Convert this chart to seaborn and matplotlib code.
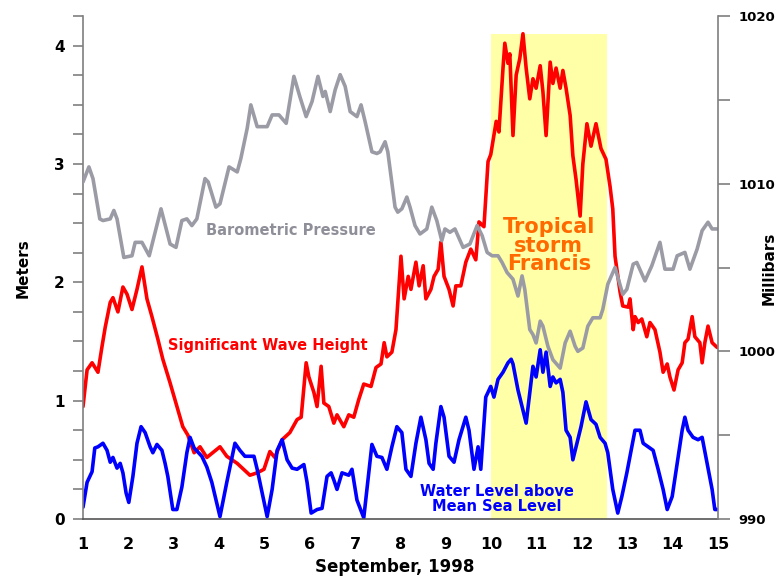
import matplotlib
matplotlib.use("Agg")
import matplotlib.pyplot as plt
import seaborn as sns
from matplotlib.ticker import MultipleLocator

# Barometric pressure, millibars (right axis)
pressure_day = [1.00, 1.13, 1.22, 1.37, 1.44, 1.60, 1.68, 1.75, 1.90, 2.08, 2.15, 2.30, 2.46, 2.59,
                2.72, 2.92, 3.05, 3.18, 3.29, 3.40, 3.51, 3.69, 3.76, 3.93, 4.02, 4.22, 4.40, 4.48,
                4.62, 4.70, 4.84, 5.06, 5.17, 5.32, 5.48, 5.65, 5.78, 5.92, 6.05, 6.18, 6.29, 6.34,
                6.45, 6.56, 6.67, 6.78, 6.89, 7.04, 7.13, 7.22, 7.37, 7.48, 7.55, 7.66, 7.72, 7.88,
                7.94, 8.03, 8.14, 8.21, 8.32, 8.43, 8.58, 8.69, 8.80, 8.91, 8.98, 9.09, 9.20, 9.38,
                9.53, 9.69, 9.80, 9.91, 10.02, 10.15, 10.24, 10.35, 10.48, 10.59, 10.68, 10.74,
                10.85, 10.92, 10.99, 11.08, 11.14, 11.25, 11.36, 11.52, 11.63, 11.74, 11.85, 11.91,
                12.02, 12.13, 12.24, 12.40, 12.46, 12.57, 12.73, 12.90, 12.99, 13.13, 13.21, 13.39,
                13.54, 13.72, 13.83, 14.01, 14.10, 14.27, 14.38, 14.54, 14.65, 14.78, 14.87, 14.98]
pressure_mb = [1010.1, 1011.0, 1010.3, 1007.9, 1007.8, 1007.9, 1008.4, 1007.9, 1005.6, 1005.7,
               1006.5, 1006.5, 1005.7, 1007.1, 1008.5, 1006.4, 1006.2, 1007.8, 1007.9, 1007.5,
               1007.9, 1010.3, 1010.1, 1008.6, 1008.8, 1011.0, 1010.7, 1011.5, 1013.3, 1014.7,
               1013.4, 1013.4, 1014.1, 1014.1, 1013.6, 1016.4, 1015.2, 1014.0, 1014.9, 1016.4,
               1015.2, 1015.5, 1014.3, 1015.6, 1016.5, 1015.8, 1014.3, 1014.0, 1014.7, 1013.7,
               1011.9, 1011.8, 1011.9, 1012.5, 1011.9, 1008.6, 1008.3, 1008.5, 1009.2, 1008.6,
               1007.5, 1007.0, 1007.3, 1008.6, 1007.8, 1006.6, 1007.3, 1007.1, 1007.3, 1006.2,
               1006.4, 1007.5, 1006.9, 1005.9, 1005.7, 1005.7, 1005.3, 1004.7, 1004.3, 1003.3,
               1004.5, 1003.7, 1001.3, 1001.0, 1000.5, 1001.8, 1001.5, 1000.3, 999.5, 999.0,
               1000.5, 1001.2, 1000.3, 1000.0, 1000.2, 1001.5, 1002.0, 1002.0, 1002.5, 1004.0,
               1005.0, 1003.4, 1003.7, 1005.2, 1005.3, 1004.2, 1005.1, 1006.5, 1004.9, 1004.9,
               1005.7, 1005.9, 1004.9, 1006.1, 1007.2, 1007.7, 1007.3, 1007.3]

# Significant wave height, meters
wave_day = [1.00, 1.09, 1.20, 1.33, 1.42, 1.49, 1.60, 1.66, 1.77, 1.88, 1.97, 2.08, 2.19, 2.30,
            2.41, 2.52, 2.65, 2.76, 2.92, 3.07, 3.20, 3.31, 3.45, 3.58, 3.73, 4.02, 4.17, 4.40,
            4.68, 4.84, 4.99, 5.12, 5.23, 5.39, 5.56, 5.72, 5.81, 5.92, 5.98, 6.09, 6.16, 6.25,
            6.31, 6.42, 6.53, 6.60, 6.75, 6.86, 6.97, 7.08, 7.19, 7.35, 7.46, 7.57, 7.64, 7.70,
            7.81, 7.90, 8.01, 8.08, 8.17, 8.23, 8.34, 8.41, 8.50, 8.56, 8.67, 8.74, 8.83, 8.89,
            8.96, 9.07, 9.16, 9.22, 9.33, 9.44, 9.55, 9.66, 9.73, 9.84, 9.93, 9.99, 10.11, 10.17,
            10.26, 10.30, 10.37, 10.41, 10.48, 10.55, 10.63, 10.70, 10.77, 10.85, 10.92, 10.99,
            11.08, 11.14, 11.21, 11.30, 11.36, 11.43, 11.52, 11.58, 11.65, 11.74, 11.80, 11.87,
            11.96, 12.02, 12.11, 12.20, 12.31, 12.42, 12.53, 12.62, 12.68, 12.73, 12.84, 12.90,
            13.02, 13.06, 13.13, 13.17, 13.24, 13.32, 13.43, 13.50, 13.61, 13.72, 13.79, 13.88,
            13.94, 14.03, 14.12, 14.21, 14.27, 14.34, 14.43, 14.49, 14.60, 14.65, 14.71, 14.78,
            14.87, 14.98]
wave_m = [0.95, 1.26, 1.32, 1.24, 1.46, 1.62, 1.83, 1.87, 1.75, 1.96, 1.90, 1.77, 1.94, 2.13,
          1.86, 1.71, 1.52, 1.35, 1.15, 0.95, 0.78, 0.71, 0.56, 0.61, 0.52, 0.61, 0.53, 0.47,
          0.37, 0.39, 0.42, 0.57, 0.52, 0.67, 0.73, 0.84, 0.86, 1.32, 1.20, 1.07, 0.95, 1.29,
          0.98, 0.95, 0.81, 0.88, 0.78, 0.88, 0.86, 1.01, 1.14, 1.12, 1.28, 1.31, 1.49, 1.37,
          1.41, 1.60, 2.22, 1.86, 2.05, 1.94, 2.17, 1.97, 2.14, 1.86, 1.94, 2.05, 2.11, 2.34,
          2.05, 1.94, 1.80, 1.97, 1.97, 2.17, 2.28, 2.19, 2.51, 2.47, 3.02, 3.08, 3.36, 3.27,
          3.81, 4.02, 3.85, 3.93, 3.24, 3.75, 3.89, 4.10, 3.81, 3.55, 3.72, 3.64,
          3.83, 3.61, 3.24, 3.86, 3.68, 3.81, 3.64, 3.79, 3.64, 3.41, 3.07, 2.87,
          2.56, 3.00, 3.34, 3.15, 3.34, 3.13, 3.04, 2.81, 2.62, 2.22, 1.92, 1.80,
          1.79, 1.86, 1.60, 1.71, 1.66, 1.69, 1.54, 1.66, 1.60, 1.41, 1.24, 1.31,
          1.20, 1.09, 1.26, 1.32, 1.49, 1.52, 1.71, 1.54, 1.49, 1.32, 1.49, 1.63,
          1.49, 1.45]

# Water level above mean sea level, meters
water_day = [1.00, 1.09, 1.20, 1.26, 1.33, 1.44, 1.53, 1.60, 1.66, 1.75, 1.82, 1.88, 1.95, 2.01,
             2.10, 2.19, 2.28, 2.37, 2.48, 2.54, 2.63, 2.74, 2.81, 2.87, 2.98, 3.07, 3.18, 3.29,
             3.36, 3.45, 3.62, 3.73, 3.84, 4.02, 4.17, 4.35, 4.46, 4.57, 4.77, 4.84, 5.06, 5.17,
             5.28, 5.39, 5.50, 5.61, 5.72, 5.87, 5.94, 6.03, 6.16, 6.27, 6.38, 6.47, 6.53, 6.60,
             6.71, 6.86, 6.93, 7.04, 7.19, 7.37, 7.48, 7.59, 7.70, 7.81, 7.92, 8.03, 8.12, 8.23,
             8.34, 8.45, 8.56, 8.63, 8.72, 8.78, 8.89, 8.96, 9.07, 9.18, 9.29, 9.44, 9.51, 9.62,
             9.71, 9.77, 9.88, 9.99, 10.06, 10.15, 10.26, 10.37, 10.44, 10.48, 10.59, 10.70,
             10.77, 10.85, 10.92, 10.99, 11.08, 11.14, 11.21, 11.30, 11.36, 11.43, 11.52, 11.58,
             11.65, 11.74, 11.80, 11.87, 11.98, 12.09, 12.20, 12.31, 12.40, 12.51, 12.57, 12.68,
             12.79, 12.88, 12.99, 13.06, 13.17, 13.28, 13.35, 13.46, 13.57, 13.68, 13.79, 13.88,
             13.99, 14.10, 14.21, 14.27, 14.34, 14.45, 14.56, 14.65, 14.76, 14.87, 14.93, 14.98]
water_m = [0.10, 0.31, 0.40, 0.60, 0.61, 0.64, 0.58, 0.48, 0.52, 0.43, 0.47, 0.39, 0.22, 0.14,
           0.36, 0.64, 0.78, 0.73, 0.61, 0.56, 0.63, 0.58, 0.47, 0.36, 0.08, 0.08, 0.27, 0.56,
           0.69, 0.60, 0.53, 0.44, 0.31, 0.02, 0.31, 0.64, 0.58, 0.53, 0.53, 0.42, 0.02, 0.25,
           0.58, 0.67, 0.50, 0.43, 0.42, 0.46, 0.31, 0.05, 0.08, 0.09, 0.36, 0.39, 0.33, 0.25,
           0.39, 0.37, 0.42, 0.16, 0.01, 0.63, 0.53, 0.52, 0.42, 0.61, 0.78, 0.73, 0.42, 0.36,
           0.64, 0.86, 0.67, 0.47, 0.42, 0.64, 0.95, 0.86, 0.53, 0.48, 0.67, 0.86, 0.75, 0.42,
           0.61, 0.42, 1.03, 1.12, 1.03, 1.18, 1.24, 1.32, 1.35, 1.31, 1.09, 0.92,
           0.81, 1.07, 1.29, 1.20, 1.43, 1.24, 1.41, 1.12, 1.20, 1.15, 1.18, 1.07,
           0.75, 0.69, 0.50, 0.61, 0.78, 0.99, 0.84, 0.80, 0.69, 0.64, 0.56, 0.25,
           0.05, 0.19, 0.39, 0.53, 0.75, 0.75, 0.64, 0.61, 0.58, 0.42, 0.25, 0.08,
           0.19, 0.47, 0.75, 0.86, 0.75, 0.69, 0.67, 0.69, 0.47, 0.25, 0.08, 0.08]

# Tropical storm Francis window
storm_start, storm_end, storm_top = 10.0, 12.55, 4.1

day_ticks = list(range(1, 16))
meter_ticks = [0, 1, 2, 3, 4]
mb_ticks = [990, 1000, 1010, 1020]

sns.set_style("white")
plt.rcParams['font.family'] = ['DejaVu Sans']
plt.rcParams['font.weight'] = 'bold'
plt.rcParams['text.color'] = 'black'

GRAY = '#9b9ba6'
AXIS = '#7f7f7f'
LW = 2.6

fig = plt.figure(figsize=(7.83, 5.79), dpi=100)
ax = fig.add_axes([83 / 783, 60 / 579, 635 / 783, 503 / 579])
ax2 = ax.twinx()

# Storm shading
ax.fill_between([storm_start, storm_end], 0, storm_top, color='#ffffa8', lw=0, zorder=0)

sns.lineplot(x=wave_day, y=wave_m, ax=ax, color='#ff0000', linewidth=LW,
             sort=False, estimator=None)
sns.lineplot(x=water_day, y=water_m, ax=ax, color='#0000ff', linewidth=LW,
             sort=False, estimator=None)
sns.lineplot(x=pressure_day, y=pressure_mb, ax=ax2, color=GRAY, linewidth=LW,
             sort=False, estimator=None)

ax.set_xlim(1, 15)
ax.set_ylim(0, 4.25)
ax2.set_ylim(990, 1020)

ax.set_xticks(day_ticks)
ax.set_yticks(meter_ticks)
ax.yaxis.set_minor_locator(MultipleLocator(0.25))
ax2.set_yticks(mb_ticks)
ax2.yaxis.set_minor_locator(MultipleLocator(5))

for a in (ax, ax2):
    a.set_xlabel('')
    a.set_ylabel('')
    a.spines['top'].set_visible(False)
    for s in ('left', 'right', 'bottom'):
        a.spines[s].set_color(AXIS)
        a.spines[s].set_linewidth(1.2)
ax.spines['right'].set_visible(False)
ax2.spines['left'].set_visible(False)
ax2.spines['bottom'].set_visible(False)
ax.spines['bottom'].set_color('#555555')

ax.tick_params(axis='x', which='major', direction='out', length=5, width=1.2,
               color=AXIS, labelcolor='black', labelsize=11.5, pad=8)
ax.tick_params(axis='y', which='both', direction='out', length=7, width=1.2,
               color=AXIS, labelcolor='black', labelsize=11, pad=6)
ax2.tick_params(axis='y', which='both', direction='out', length=8.5, width=1.2,
                color=AXIS, labelcolor='black', labelsize=9.5, pad=6)
for lab in ax.get_xticklabels() + ax.get_yticklabels() + ax2.get_yticklabels():
    lab.set_fontweight('bold')

# Series labels
ax.text(5.59, 2.44, 'Barometric Pressure', color='#8f8f99', fontsize=10.5,
        fontweight='bold', ha='center', va='center')
ax.text(5.08, 1.47, 'Significant Wave Height', color='#ff0000', fontsize=10.5,
        fontweight='bold', ha='center', va='center')
ax.text(10.13, 0.17, 'Water Level above\nMean Sea Level', color='#0000ff', fontsize=10.5,
        fontweight='bold', ha='center', va='center', linespacing=1.05)
ax.text(11.27, 2.31, 'Tropical\nstorm\nFrancis', color='#ff6a00', fontsize=15,
        fontweight='bold', ha='center', va='center', linespacing=0.9)

fig.text(23 / 783, 1 - 268 / 579, 'Meters', rotation=90, fontsize=11,
         fontweight='bold', ha='center', va='center')
fig.text(769 / 783, 1 - 268 / 579, 'Millibars', rotation=90, fontsize=11,
         fontweight='bold', ha='center', va='center')
fig.text(395 / 783, 1 - 567 / 579, 'September, 1998', fontsize=12,
         fontweight='bold', ha='center', va='center')

fig.savefig('out.png', dpi=100)
